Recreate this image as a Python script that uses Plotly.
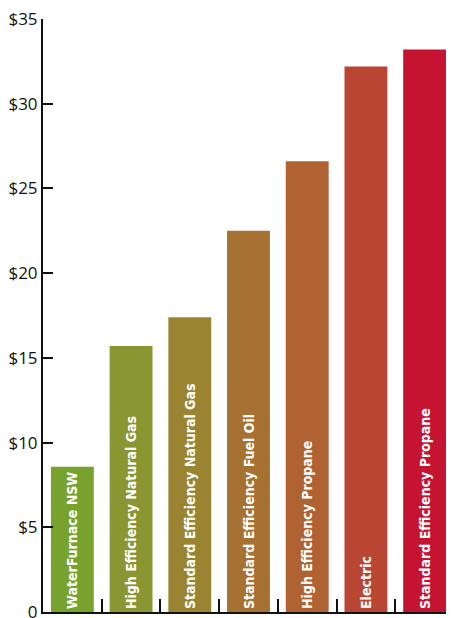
import plotly.graph_objects as go

categories = [
    "WaterFurnace NSW",
    "High Efficiency Natural Gas",
    "Standard Efficiency Natural Gas",
    "Standard Efficiency Fuel Oil",
    "High Efficiency Propane",
    "Electric",
    "Standard Efficiency Propane",
]
values = [8.58, 15.7, 17.4, 22.5, 26.6, 32.2, 33.2]
bar_colors = ["#77A22E", "#8A9632", "#9A8431", "#A67131", "#B06232", "#B94632", "#C51332"]

tick_vals = [0, 5, 10, 15, 20, 25, 30, 35]
tick_text = ["0", "$5", "$10", "$15", "$20", "$25", "$30", "$35"]

fig = go.Figure(
    go.Bar(
        x=categories,
        y=values,
        marker=dict(color=bar_colors, line=dict(width=0)),
        width=0.73,
        text=categories,
        textposition="inside",
        insidetextanchor="start",
        textangle=-90,
        textfont=dict(family="DejaVu Sans Condensed", weight="bold",
                      size=14, color="white"),
        hoverinfo="skip",
    )
)

fig.update_layout(
    width=454,
    height=618,
    margin=dict(l=35, r=8, t=11, b=14),
    plot_bgcolor="white",
    paper_bgcolor="white",
    showlegend=False,
    bargap=0.27,
    font=dict(family="Open Sans, sans-serif", size=16, color="#111"),
)

fig.update_xaxes(
    range=[-0.5, 6.5],
    showticklabels=False,
    showline=True,
    linecolor="#111",
    linewidth=2,
    ticks="inside",
    tickson="boundaries",
    ticklen=13,
    tickwidth=2,
    tickcolor="#111",
    showgrid=False,
    zeroline=False,
    automargin=False,
)

fig.update_yaxes(
    range=[0, 35],
    tickmode="array",
    tickvals=tick_vals,
    ticktext=tick_text,
    showline=True,
    linecolor="#111",
    linewidth=2,
    ticks="inside",
    ticklen=10,
    tickwidth=2,
    tickcolor="#111",
    showgrid=False,
    zeroline=False,
    automargin=False,
    ticklabeloverflow="allow",
    tickfont=dict(family="Open Sans, sans-serif", size=17, color="#111"),
)

fig.write_html("out.html")
